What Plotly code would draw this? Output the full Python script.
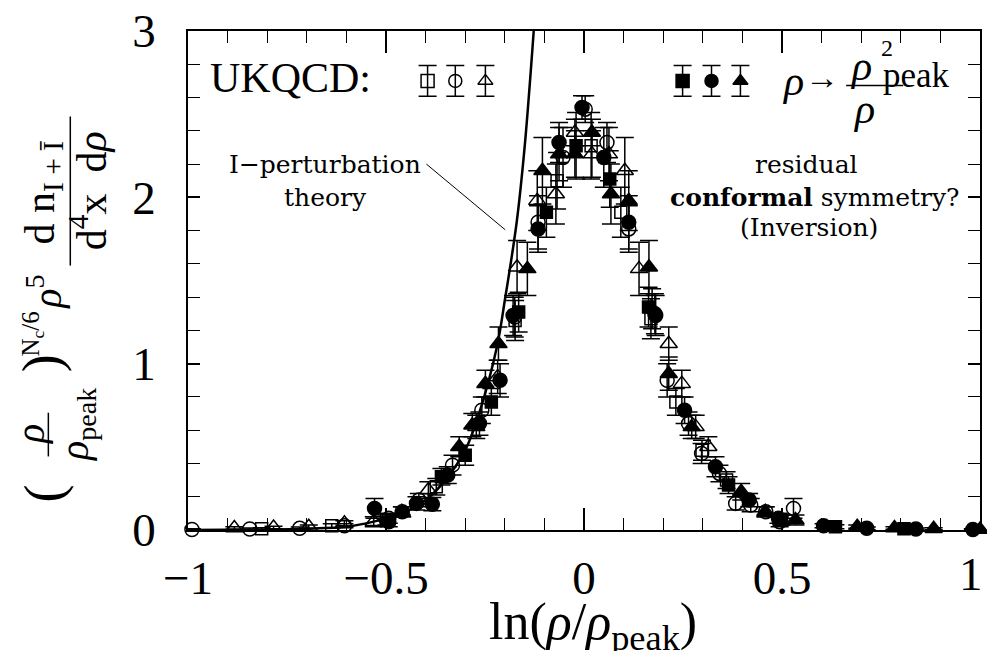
import plotly.graph_objects as go

# ---------------- data ----------------
# open circles
oc_x = [-0.99, -0.844, -0.718, -0.605, -0.493, -0.417, -0.332, -0.258, -0.175, -0.116, -0.053, 0.003,
        0.058, 0.113, 0.179, 0.210, 0.264, 0.297, 0.342, 0.383, 0.421, 0.459, 0.494, 0.529]
oc_y = [0.003, 0.006, 0.010, 0.025, 0.07, 0.18, 0.39, 0.72, 1.28, 1.85, 2.24, 2.53,
        2.33, 1.81, 1.30, 0.90, 0.64, 0.46, 0.34, 0.16, 0.15, 0.11, 0.05, 0.13]
oc_e = [0.005, 0.006, 0.008, 0.012, 0.03, 0.04, 0.06, 0.08, 0.12, 0.16, 0.18, 0.08,
        0.12, 0.14, 0.12, 0.10, 0.07, 0.06, 0.05, 0.04, 0.04, 0.03, 0.03, 0.06]
# filled circles
fc_x = [-0.529, -0.493, -0.459, -0.423, -0.383, -0.344, -0.264, -0.212, -0.179, -0.116, -0.063, -0.005,
        0.050, 0.113, 0.181, 0.254, 0.332, 0.417, 0.491, 0.605, 0.714, 0.838, 0.982]
fc_y = [0.13, 0.05, 0.11, 0.16, 0.155, 0.33, 0.64, 0.90, 1.29, 1.81, 2.33, 2.54,
        2.24, 1.85, 1.29, 0.72, 0.38, 0.18, 0.07, 0.025, 0.010, 0.006, 0.003]
fc_e = [0.06, 0.03, 0.03, 0.04, 0.04, 0.05, 0.07, 0.10, 0.12, 0.14, 0.12, 0.07,
        0.18, 0.16, 0.12, 0.08, 0.06, 0.04, 0.03, 0.012, 0.008, 0.006, 0.005]
# open squares
os_x = [-0.814, -0.637, -0.499, -0.373, -0.174, -0.068, 0.018, 0.093, 0.169, 0.232, 0.298, 0.360]
os_y = [0.008, 0.025, 0.06, 0.26, 1.26, 2.10, 2.31, 1.91, 1.27, 0.77, 0.48, 0.30]
os_e = [0.006, 0.012, 0.03, 0.05, 0.12, 0.17, 0.20, 0.15, 0.12, 0.08, 0.06, 0.05]
# filled squares
fs_x = [-0.360, -0.300, -0.234, -0.165, -0.095, -0.020, 0.065, 0.163, 0.365, 0.499, 0.635, 0.808]
fs_y = [0.32, 0.45, 0.77, 1.31, 1.91, 2.31, 2.11, 1.34, 0.27, 0.06, 0.02, 0.007]
fs_e = [0.05, 0.06, 0.08, 0.12, 0.15, 0.20, 0.17, 0.12, 0.05, 0.03, 0.012, 0.006]
# open triangles
ot_x = [-0.883, -0.784, -0.695, -0.605, -0.531, -0.460, -0.393, -0.272, -0.218, -0.169, -0.118, -0.071,
        -0.023, 0.020, 0.063, 0.103, 0.139, 0.172, 0.214, 0.247, 0.282, 0.314]
ot_y = [0.012, 0.015, 0.020, 0.04, 0.05, 0.11, 0.24, 0.62, 0.92, 1.58, 1.98, 2.02,
        2.39, 2.26, 2.26, 2.16, 1.57, 1.33, 1.12, 0.88, 0.62, 0.50]
ot_e = [0.008, 0.008, 0.010, 0.015, 0.03, 0.03, 0.05, 0.07, 0.10, 0.16, 0.18, 0.18,
        0.08, 0.14, 0.16, 0.20, 0.16, 0.12, 0.10, 0.08, 0.07, 0.06]
# filled triangles
ft_x = [-0.315, -0.282, -0.249, -0.216, -0.143, -0.105, -0.063, -0.023, 0.020, 0.068, 0.113, 0.164,
        0.214, 0.272, 0.397, 0.458, 0.534, 0.690, 0.784, 0.883, 1.0]
ft_y = [0.50, 0.63, 0.88, 1.12, 1.57, 2.16, 2.26, 2.26, 2.39, 2.02, 1.98, 1.58,
        0.94, 0.62, 0.23, 0.11, 0.06, 0.02, 0.012, 0.008, 0.003]
ft_e = [0.06, 0.07, 0.08, 0.10, 0.16, 0.20, 0.16, 0.14, 0.08, 0.18, 0.18, 0.16,
        0.10, 0.07, 0.05, 0.03, 0.03, 0.010, 0.008, 0.006, 0.005]
# I-perturbation theory curve
curve_x = [-1.0, -0.9, -0.8, -0.7, -0.6, -0.55, -0.5, -0.45, -0.4, -0.35, -0.3, -0.265,
           -0.22, -0.2, -0.17, -0.15, -0.13, -0.115]
curve_y = [0.0005, 0.001, 0.003, 0.008, 0.02, 0.04, 0.07, 0.11, 0.18, 0.30, 0.48, 0.70,
           1.10, 1.38, 1.85, 2.30, 2.90, 3.40]
# key symbols
key_open_x = [-0.395, -0.325, -0.249]
key_filled_x = [0.249, 0.322, 0.395]
key_y = [2.70, 2.70, 2.70]
key_e = [0.093, 0.093, 0.093]
# tick labels
x_tickvals = [-1, -0.5, 0, 0.5, 1]
x_ticktext = ["\u22121", "\u22120.5", "0", "0.5", ""]   # the "1" is placed separately, inside the page
y_tickvals = [0, 1, 2, 3]
y_ticktext = ["0", "1", "2", "3"]

# ---------------- figure ----------------
fig = go.Figure()

BLK = "black"


def add_series(x, y, e, symbol, size):
    fig.add_trace(go.Scatter(
        x=x, y=y, mode="markers", cliponaxis=False,
        marker=dict(symbol=symbol, size=size, color=BLK, line=dict(color=BLK, width=1.5)),
        error_y=dict(type="data", array=e, color=BLK, thickness=1.5, width=9),
        showlegend=False, hoverinfo="skip"))


add_series(os_x, os_y, os_e, "square-open", 12)
add_series(oc_x, oc_y, oc_e, "circle-open", 14)
add_series(ot_x, ot_y, ot_e, "triangle-up-open", 15)
add_series(fs_x, fs_y, fs_e, "square", 12)
add_series(fc_x, fc_y, fc_e, "circle", 14)
add_series(ft_x, ft_y, ft_e, "triangle-up", 15)

# key
for sx, sym in zip(key_open_x, ["square-open", "circle-open", "triangle-up-open"]):
    fig.add_trace(go.Scatter(x=[sx], y=[key_y[0]], mode="markers",
                             marker=dict(symbol=sym, size=13, color=BLK, line=dict(color=BLK, width=1.5)),
                             error_y=dict(type="data", array=[key_e[0]], color=BLK, thickness=1.5, width=9),
                             showlegend=False, hoverinfo="skip"))
for sx, sym in zip(key_filled_x, ["square", "circle", "triangle-up"]):
    fig.add_trace(go.Scatter(x=[sx], y=[key_y[0]], mode="markers",
                             marker=dict(symbol=sym, size=13, color=BLK, line=dict(color=BLK, width=1.5)),
                             error_y=dict(type="data", array=[key_e[0]], color=BLK, thickness=1.5, width=9),
                             showlegend=False, hoverinfo="skip"))

fig.add_trace(go.Scatter(x=curve_x, y=curve_y, mode="lines", line=dict(color=BLK, width=2.5, shape="spline"),
                         showlegend=False, hoverinfo="skip"))

SERIF = "Liberation Serif"
SLAB = "DejaVu Serif"

axis_common = dict(
    ticks="inside", tickcolor=BLK, tickwidth=1.5,
    showline=True, linecolor=BLK, linewidth=1.5, mirror="allticks",
    showgrid=False, zeroline=False,
    tickfont=dict(family=SERIF, size=47, color=BLK),
)

fig.update_layout(
    width=987, height=651,
    margin=dict(l=188, r=5, t=28, b=121),
    paper_bgcolor="white", plot_bgcolor="white",
    showlegend=False,
    xaxis=dict(range=[-1, 1], tickmode="array", tickvals=x_tickvals, ticktext=x_ticktext,
               ticklen=22, ticklabelstandoff=6,
               minor=dict(dtick=0.1, tick0=-1, ticklen=12, ticks="inside", tickcolor=BLK, tickwidth=1.2),
               **axis_common),
    yaxis=dict(range=[0, 3], tickmode="array", tickvals=y_tickvals, ticktext=y_ticktext,
               ticklen=12, ticklabelstandoff=21,
               minor=dict(dtick=0.2, tick0=0, ticklen=12, ticks="inside", tickcolor=BLK, tickwidth=1.2),
               **axis_common),
)

ann = []


def txt(x, y, text, size, family=SERIF, xref="x", yref="y", angle=0, xanchor="center", yanchor="middle"):
    ann.append(dict(x=x, y=y, xref=xref, yref=yref, text=text, showarrow=False, textangle=angle,
                    xanchor=xanchor, yanchor=yanchor, font=dict(family=family, size=size, color=BLK)))


def px2paper_x(px):
    return (px - 188) / 794.0


def px2paper_y(py):
    return (530 - py) / 502.0


# last x tick label, kept inside the page
ann.append(dict(x=1, y=0, xref="paper", yref="paper", text="1", showarrow=False,
                xanchor="right", yanchor="top", xshift=5, yshift=-16,
                font=dict(family=SERIF, size=47, color=BLK)))

# in-plot texts
txt(-0.741, 2.72, "UKQCD:", 42)
txt(-0.655, 2.20, "I\u2212perturbation", 25, SLAB)
txt(-0.653, 2.00, "theory", 25, SLAB)
txt(0.562, 2.20, "residual", 25, SLAB)
txt(0.582, 2.00, "<b>conformal</b> symmetry?", 25, SLAB)
txt(0.567, 1.82, "(Inversion)", 25, SLAB)

# rho -> rho_peak^2 / rho
txt(0.527, 2.70, "<i>\u03c1</i>", 42)
txt(0.600, 2.72, "\u2192", 34)
txt(0.700, 2.79, "<i>\u03c1</i>", 42)
txt(0.764, 2.90, "2", 24)
txt(0.840, 2.735, "peak", 35)
txt(0.708, 2.53, "<i>\u03c1</i>", 42)

# y-axis title, built of rotated pieces
txt(px2paper_x(44), px2paper_y(493), "(", 54, xref="paper", yref="paper", angle=-90)
txt(px2paper_x(30), px2paper_y(434), "<i>\u03c1</i>", 40, xref="paper", yref="paper", angle=-90)
txt(px2paper_x(76), px2paper_y(424), "<i>\u03c1</i><sub>peak</sub>", 40, xref="paper", yref="paper", angle=-90)
txt(px2paper_x(42), px2paper_y(362), ")", 54, xref="paper", yref="paper", angle=-90)
txt(px2paper_x(32), px2paper_y(333), "N<sub>c</sub>/6", 25, xref="paper", yref="paper", angle=-90)
txt(px2paper_x(44), px2paper_y(291), "<i>\u03c1</i><sup>5</sup>", 40, xref="paper", yref="paper", angle=-90)
txt(px2paper_x(43), px2paper_y(190), "d\u00a0n<sub>I\u00a0+\u00a0\u012a</sub>", 42, xref="paper", yref="paper", angle=-90)
txt(px2paper_x(88), px2paper_y(189), "d<sup>4</sup>x\u00a0\u00a0d<i>\u03c1</i>", 42, xref="paper", yref="paper", angle=-90)

# x-axis title
txt(px2paper_x(594), px2paper_y(626), "ln(<i>\u03c1</i>/<i>\u03c1</i><sub>peak</sub>)", 52,
    xref="paper", yref="paper")

fig.update_layout(annotations=ann)

shapes = [
    # pointer from the label to the curve
    dict(type="line", xref="x", yref="y", x0=-0.398, y0=2.20, x1=-0.199, y1=1.805,
         line=dict(color=BLK, width=1)),
    # fraction bar in rho_peak^2 / rho
    dict(type="line", xref="x", yref="y", x0=0.662, y0=2.672, x1=0.806, y1=2.672,
         line=dict(color=BLK, width=1.5)),
    # fraction bars in the y title
    dict(type="line", xref="paper", yref="paper", x0=px2paper_x(48), x1=px2paper_x(48),
         y0=px2paper_y(412), y1=px2paper_y(456), line=dict(color=BLK, width=1.5)),
    dict(type="line", xref="paper", yref="paper", x0=px2paper_x(70), x1=px2paper_x(70),
         y0=px2paper_y(114), y1=px2paper_y(264), line=dict(color=BLK, width=1.5)),
]
fig.update_layout(shapes=shapes)

fig.write_html("out.html")
